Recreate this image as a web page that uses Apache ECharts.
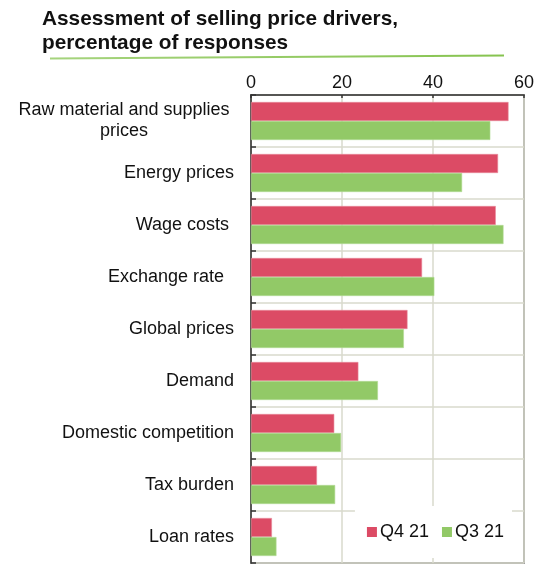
<!DOCTYPE html>
<html>
<head>
<meta charset="utf-8">
<script src="https://cdn.jsdelivr.net/npm/echarts@6/dist/echarts.min.js"></script>
<style>
  html, body { margin: 0; padding: 0; background: #ffffff; }
  #chart { width: 537px; height: 565px; }
</style>
</head>
<body>
<div id="chart"></div>
<script>
// Survey categories, top to bottom
const categories = [
  'Raw material and supplies prices',
  'Energy prices',
  'Wage costs ',
  'Exchange rate  ',
  'Global prices',
  'Demand',
  'Domestic competition',
  'Tax burden',
  'Loan rates'
];
// Share of responses naming each driver, per quarter (%)
const q4_21 = [56.6, 54.3, 53.8, 37.6, 34.4, 23.6, 18.3, 14.5, 4.6];
const q3_21 = [52.6, 46.4, 55.5, 40.3, 33.6, 27.9, 19.8, 18.5, 5.6];
const seriesNames = ['Q4 21', 'Q3 21'];
const xTicks = [0, 20, 40, 60];

const RED = '#dc4b65';
const GREEN = '#92c967';
const FONT = 'Liberation Sans, Arial, sans-serif';

const chart = echarts.init(document.getElementById('chart'), null, { renderer: 'canvas' });

chart.setOption({
  animation: false,
  backgroundColor: '#ffffff',
  title: {
    text: 'Assessment of selling price drivers,\npercentage of responses',
    left: 42,
    top: 7,
    padding: 0,
    textStyle: {
      fontFamily: FONT,
      fontSize: 20.8,
      fontWeight: 'bold',
      color: '#111111',
      lineHeight: 24
    }
  },
  graphic: [{
    type: 'line',
    shape: { x1: 50, y1: 58.5, x2: 504, y2: 55.5 },
    style: {
      lineWidth: 2,
      stroke: new echarts.graphic.LinearGradient(0, 0, 1, 0, [
        { offset: 0, color: '#a6d47e' },
        { offset: 1, color: '#86c34f' }
      ])
    },
    silent: true
  }],
  legend: {
    data: seriesNames,
    right: 25,
    bottom: 7,
    orient: 'horizontal',
    icon: 'rect',
    itemWidth: 10,
    itemHeight: 10,
    itemGap: 13,
    itemStyle: { borderWidth: 0 },
    padding: [17, 8, 17, 12],
    backgroundColor: '#ffffff',
    textStyle: { fontFamily: FONT, fontSize: 18, color: '#111111', padding: [0, 0, 0, -2] }
  },
  grid: {
    left: 251,
    right: 12,
    top: 95,
    bottom: 2,
    show: true,
    borderColor: '#555555',
    borderWidth: 1.5,
    containLabel: false
  },
  xAxis: {
    type: 'value',
    position: 'top',
    min: xTicks[0],
    max: xTicks[xTicks.length - 1],
    interval: xTicks[1] - xTicks[0],
    axisLine: { show: true, lineStyle: { color: '#333333', width: 1.5 } },
    axisTick: { show: true, inside: true, length: 3, lineStyle: { color: '#333333', width: 1.5 } },
    axisLabel: {
      fontFamily: FONT, fontSize: 18, color: '#111111', margin: 3,
      formatter: v => xTicks.includes(v) ? String(v) : ''
    },
    splitLine: { show: true, lineStyle: { color: '#d9dacd', width: 1.5 } }
  },
  yAxis: {
    type: 'category',
    data: categories,
    inverse: true,
    axisLine: { show: true, lineStyle: { color: '#333333', width: 1.5 } },
    axisTick: { show: true, inside: true, length: 5, lineStyle: { color: '#333333', width: 1.5 } },
    splitLine: { show: true, lineStyle: { color: '#d9dacd', width: 1.5 } },
    axisLabel: {
      fontFamily: FONT,
      fontSize: 18,
      color: '#111111',
      margin: 17,
      lineHeight: 21,
      formatter: function (v) {
        if (v === categories[0]) {
          return '{c|Raw material and supplies}\n{c|prices}';
        }
        return v;
      },
      rich: {
        c: { fontFamily: FONT, fontSize: 18, color: '#111111', width: 220, align: 'center', lineHeight: 21 }
      }
    }
  },
  series: [
    {
      name: seriesNames[0],
      type: 'bar',
      data: q4_21,
      barWidth: 19,
      barGap: '0%',
      itemStyle: { color: RED, borderColor: '#e88a9b', borderWidth: 0.6 }
    },
    {
      name: seriesNames[1],
      type: 'bar',
      data: q3_21,
      barWidth: 19,
      barGap: '0%',
      itemStyle: { color: GREEN, borderColor: '#b4db95', borderWidth: 0.6 }
    }
  ]
});
</script>
</body>
</html>
